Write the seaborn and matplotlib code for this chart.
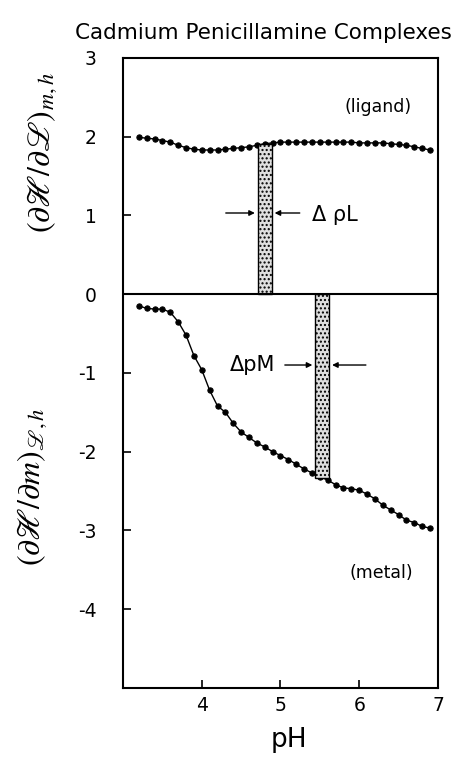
import numpy as np
import pandas as pd
import seaborn as sns
import matplotlib
matplotlib.use("Agg")
import matplotlib.pyplot as plt

# ---- data ----
ph = [3.2, 3.3, 3.4, 3.5, 3.6, 3.7, 3.8, 3.9, 4.0, 4.1, 4.2, 4.3, 4.4, 4.5, 4.6,
      4.7, 4.8, 4.9, 5.0, 5.1, 5.2, 5.3, 5.4, 5.5, 5.6, 5.7, 5.8, 5.9, 6.0, 6.1,
      6.2, 6.3, 6.4, 6.5, 6.6, 6.7, 6.8, 6.9]
ligand = [1.99, 1.98, 1.97, 1.95, 1.93, 1.89, 1.86, 1.84, 1.83, 1.83, 1.83, 1.84,
          1.85, 1.86, 1.87, 1.89, 1.91, 1.92, 1.93, 1.93, 1.93, 1.93, 1.93, 1.93,
          1.93, 1.93, 1.93, 1.93, 1.92, 1.92, 1.92, 1.92, 1.91, 1.90, 1.89, 1.87,
          1.85, 1.83]
metal = [-0.15, -0.18, -0.19, -0.19, -0.23, -0.35, -0.52, -0.78, -0.96, -1.22,
         -1.42, -1.50, -1.64, -1.75, -1.82, -1.89, -1.94, -2.00, -2.05, -2.10,
         -2.16, -2.22, -2.27, -2.32, -2.36, -2.42, -2.46, -2.47, -2.49, -2.54,
         -2.60, -2.68, -2.74, -2.80, -2.87, -2.90, -2.95, -2.97]
bar_x = [4.80, 5.53]
bar_h = [1.90, -2.33]
x_ticks = [4, 5, 6, 7]
y_ticks = [-4, -3, -2, -1, 0, 1, 2, 3]

sns.set_style("white")
plt.rcParams["font.family"] = ["DejaVu Sans"]
plt.rcParams["axes.unicode_minus"] = False
plt.rcParams["mathtext.fontset"] = "stix"
plt.rcParams["text.color"] = "black"
plt.rcParams["xtick.color"] = "black"
plt.rcParams["ytick.color"] = "black"

fig = plt.figure(figsize=(4.75, 7.61), dpi=100)
ax = fig.add_axes([0.259, 0.096, 0.663, 0.828])

df = pd.DataFrame({"pH": ph * 2, "val": ligand + metal,
                   "kind": ["ligand"] * len(ph) + ["metal"] * len(ph)})
sns.lineplot(data=df, x="pH", y="val", units="kind", estimator=None,
             color="black", lw=1.0, marker="o", markersize=3.8,
             markeredgecolor="black", ax=ax, legend=False)

ax.bar(bar_x, bar_h, width=0.18, align="center", facecolor="#e0e0e0",
       edgecolor="black", linewidth=1.0, hatch="....", zorder=3)
ax.axhline(0, color="black", lw=1.5, zorder=4)

ax.set_xlim(3, 7)
ax.set_ylim(-5, 3)
ax.set_xticks(x_ticks)
ax.set_yticks(y_ticks)
ax.set_xticklabels([str(t) for t in x_ticks])
ax.set_yticklabels([str(t) for t in y_ticks])
ax.tick_params(axis="y", direction="in", length=6, width=1.2, pad=19,
               labelsize=13.5, left=True, colors="black")
ax.tick_params(axis="x", direction="in", length=6, width=1.2, pad=6,
               labelsize=13.5, bottom=True, colors="black")
for s in ax.spines.values():
    s.set_color("black")
    s.set_linewidth(1.5)
ax.set_xlabel("")
ax.set_ylabel("")

# arrows and labels
ap = dict(arrowstyle="-|>", color="black", lw=1.0, mutation_scale=8)
ax.annotate("", xy=(4.71, 1.03), xytext=(4.27, 1.03), arrowprops=ap)
ax.annotate("", xy=(4.89, 1.03), xytext=(5.28, 1.03), arrowprops=ap)
ax.text(5.40, 1.0, "\u0394 \u03c1L", fontsize=15, va="center", ha="left")

ax.annotate("", xy=(5.44, -0.90), xytext=(5.02, -0.90), arrowprops=ap)
ax.annotate("", xy=(5.62, -0.90), xytext=(6.12, -0.90), arrowprops=ap)
ax.text(4.93, -0.90, "\u0394pM", fontsize=15, va="center", ha="right")

ax.text(6.24, 2.37, "(ligand)", fontsize=12.5, ha="center", va="center")
ax.text(6.28, -3.54, "(metal)", fontsize=12.5, ha="center", va="center")

fig.text(0.555, 0.957, "Cadmium Penicillamine Complexes", fontsize=15.5,
         ha="center", va="center")
fig.text(0.088, 0.80, r"$(\partial\mathscr{H}/\partial\mathscr{L})_{\mathit{m,h}}$",
         rotation=90, fontsize=23, ha="center", va="center")
fig.text(0.068, 0.36, r"$(\partial\mathscr{H}/\partial\mathit{m})_{\mathscr{L},\mathit{h}}$",
         rotation=90, fontsize=23, ha="center", va="center")
fig.text(0.608, 0.028, "pH", fontsize=19, ha="center", va="center")

fig.savefig("out.png", dpi=100)
